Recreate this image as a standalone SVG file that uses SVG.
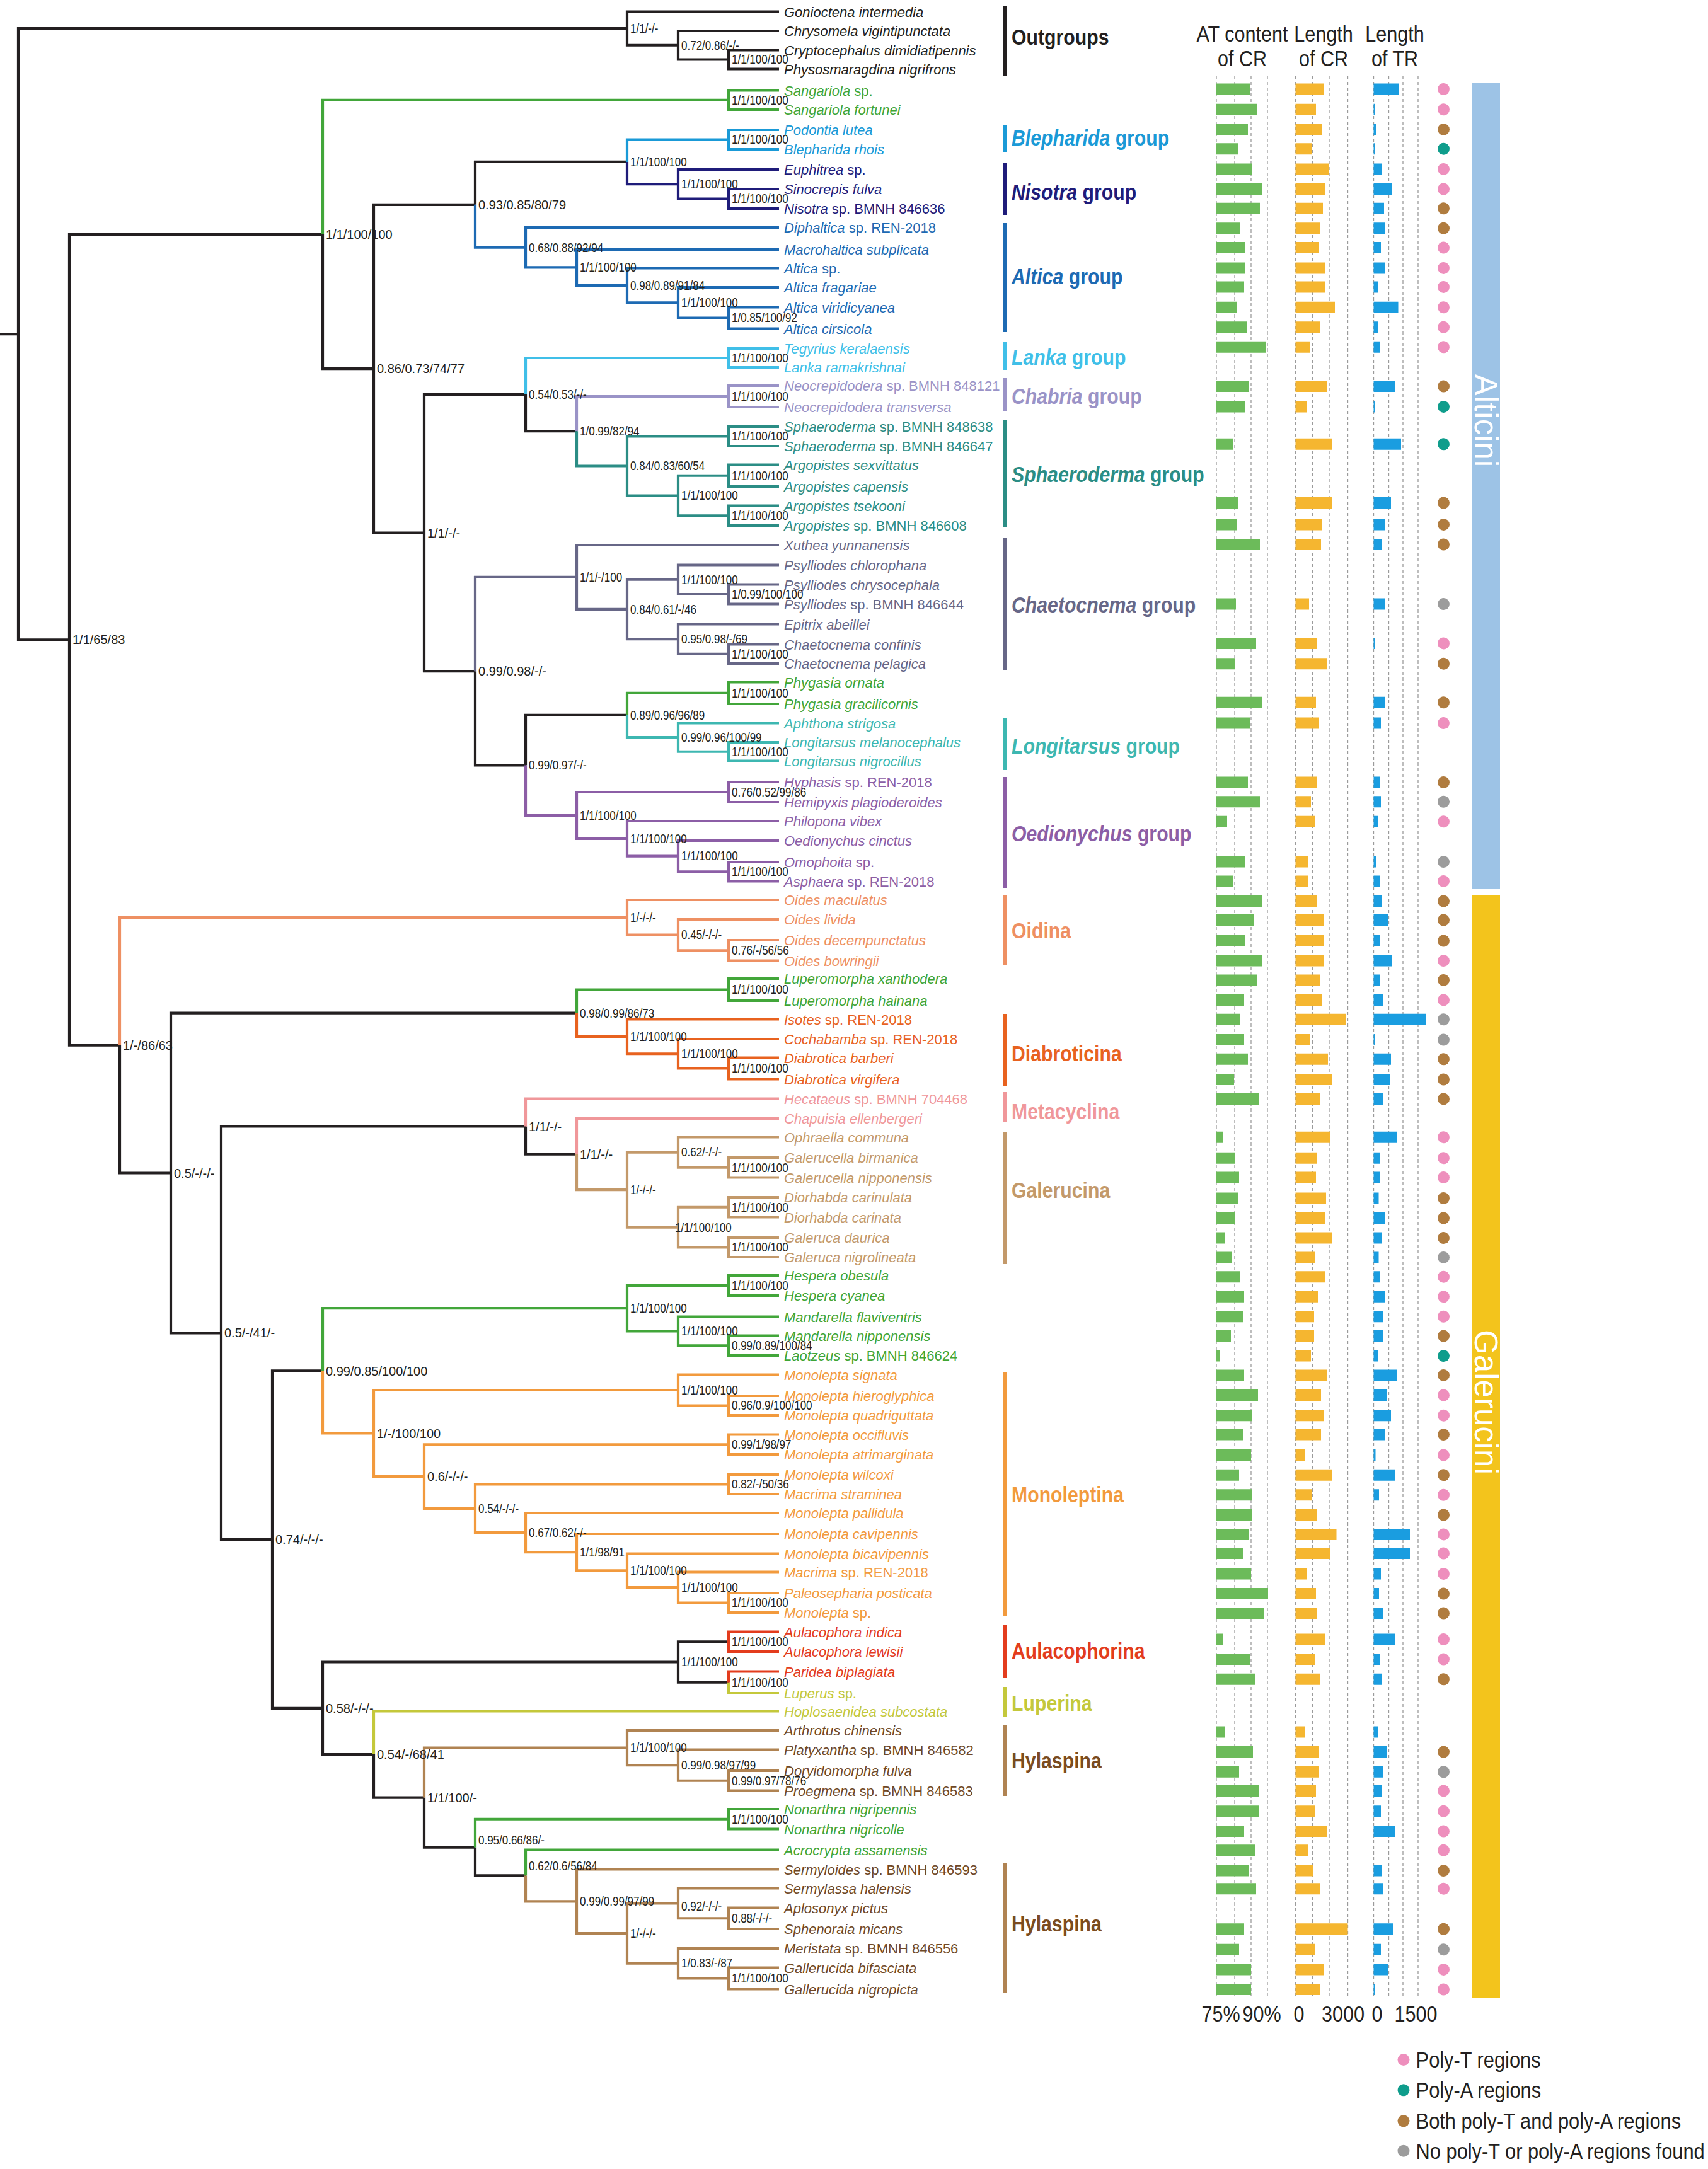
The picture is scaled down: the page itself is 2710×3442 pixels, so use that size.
<svg xmlns="http://www.w3.org/2000/svg" width="2710" height="3442" viewBox="0 0 2710 3442">
<style>
text{font-family:'Liberation Sans',Arial,Helvetica,sans-serif}
.lf{font-size:22px;font-style:italic}
.rm{font-style:normal}
.sv{font-size:20px;fill:#231f20}
.gl{font-size:36px;font-weight:bold}
.gi{font-style:italic}
.hd{font-size:36px;fill:#231f20;text-anchor:middle}
.lg{font-size:35px;fill:#231f20}
.tb{font-size:51px;fill:#ffffff;text-anchor:middle}
.e{fill:none;stroke-width:4.2;stroke-linecap:butt;stroke-linejoin:miter}
.grid{stroke:#9b9b9b;stroke-width:1.3;stroke-dasharray:5 4;fill:none}
.at{fill:#6cbb5a}.cr{fill:#f5b630}.tr{fill:#1a9de0}
.dP{fill:#ee8fbd}.dT{fill:#0f9d8c}.dB{fill:#b07c3f}.dG{fill:#9c9c9c}
path.kb{stroke:#231f20} text.kb,rect.kb{fill:#231f20}
path.gr{stroke:#42a63a} text.gr,rect.gr{fill:#3fa535}
path.lb{stroke:#1a9ad7} text.lb,rect.lb{fill:#1a9ad7}
path.nv{stroke:#1f1c7a} text.nv,rect.nv{fill:#1f1c7a}
path.al{stroke:#1d6ab3} text.al,rect.al{fill:#1d6ab3}
path.la{stroke:#40bfe8} text.la,rect.la{fill:#40bfe8}
path.ch{stroke:#9a93c7} text.ch,rect.ch{fill:#9a93c7}
path.sp{stroke:#2b8d85} text.sp,rect.sp{fill:#2b8d85}
path.ca{stroke:#676787} text.ca,rect.ca{fill:#676787}
path.lo{stroke:#3db7b1} text.lo,rect.lo{fill:#3db7b1}
path.oe{stroke:#8c5ea6} text.oe,rect.oe{fill:#8c5ea6}
path.oi{stroke:#ee9063} text.oi,rect.oi{fill:#ee9063}
path.di{stroke:#e8621f} text.di,rect.di{fill:#e8621f}
path.me{stroke:#f0979a} text.me,rect.me{fill:#f0979a}
path.ga{stroke:#c3996a} text.ga,rect.ga{fill:#c3996a}
path.mo{stroke:#f29a3d} text.mo,rect.mo{fill:#f29a3d}
path.au{stroke:#e33c1d} text.au,rect.au{fill:#e33c1d}
path.lu{stroke:#c4c83b} text.lu,rect.lu{fill:#c4c83b}
path.hy{stroke:#b08352} rect.hy{fill:#b08352}
text.ht{fill:#6f4826} text.hl{fill:#7b4c20}
</style>
<rect x="0" y="0" width="2710" height="3442" fill="#ffffff"/>

<g id="connectors">
<path class="e kb" d="M0 530.2H29M29 530.2V45.1H995M29 530.2V1015.3H110M995 45.1V18.5H1236M995 45.1V71.75H1076M1076 71.75V49H1236M1076 71.75V94.5H1156M1156 94.5V79.5H1236M1156 94.5V109.5H1236M110 1015.3V372H512M110 1015.3V1658.65H190M512 372V585.2H593M593 585.2V324.8H754M593 585.2V845.65H673M754 324.8V256.9H995M673 845.65V626.1H834M673 845.65V1065.2H754M834 626.1V684.25H915M754 1065.2V1214.4H834M834 1214.4V1134.9H995M190 1658.65V1861.5H271M271 1861.5V1607.7H915M271 1861.5V2115.3H351M351 2115.3V1787.5H834M351 2115.3V2443.1H432M834 1787.5V1831.55H915M432 2443.1V2175.35H512M432 2443.1V2710.8H512M512 2710.8V2637.5H1076M512 2710.8V2784.05H593M1076 2637.5V2605.25H1156M1076 2637.5V2669.75H1156M593 2784.05V2852.6H673M673 2852.6V2931.6H754M754 2931.6V2976.4H834"/>
<path class="e gr" d="M512 372V158.75H1156M1156 158.75V143.5H1236M1156 158.75V174H1236M995 1134.9V1099.75H1156M1156 1099.75V1082.5H1236M1156 1099.75V1117H1236M915 1607.7V1570.5H1156M1156 1570.5V1553H1236M1156 1570.5V1588H1236M512 2175.35V2076.2H995M995 2076.2V2040H1156M995 2076.2V2112.4H1076M1156 2040V2024H1236M1156 2040V2056H1236M1076 2112.4V2089.5H1236M1076 2112.4V2135.25H1156M1156 2135.25V2119.5H1236M1156 2135.25V2151H1236M754 2931.6V2886.75H1156M1156 2886.75V2871H1236M1156 2886.75V2902.5H1236M834 2976.4V2935.5H1236"/>
<path class="e lb" d="M995 256.9V221.5H1156M1156 221.5V206H1236M1156 221.5V237H1236"/>
<path class="e nv" d="M995 256.9V292.25H1076M1076 292.25V269H1236M1076 292.25V315.5H1156M1156 315.5V300H1236M1156 315.5V331H1236"/>
<path class="e al" d="M754 324.8V392.7H834M834 392.7V361H1236M834 392.7V424.45H915M915 424.45V396H1236M915 424.45V452.9H995M995 452.9V425.5H1236M995 452.9V480.25H1076M1076 480.25V456H1236M1076 480.25V504.5H1156M1156 504.5V487.5H1236M1156 504.5V521.5H1236"/>
<path class="e la" d="M834 626.1V568H1156M1156 568V553H1236M1156 568V583H1236"/>
<path class="e ch" d="M915 684.25V629H1156M1156 629V612H1236M1156 629V646H1236"/>
<path class="e sp" d="M915 684.25V739.5H995M995 739.5V692.5H1156M995 739.5V786.5H1076M1156 692.5V677H1236M1156 692.5V708H1236M1076 786.5V754.75H1156M1076 786.5V818.25H1156M1156 754.75V737.5H1236M1156 754.75V772H1236M1156 818.25V802.5H1236M1156 818.25V834H1236"/>
<path class="e ca" d="M754 1065.2V915.95H915M915 915.95V865H1236M915 915.95V966.9H995M995 966.9V919.75H1076M995 966.9V1014.1H1076M1076 919.75V896.5H1236M1076 919.75V943H1156M1156 943V927.5H1236M1156 943V958.5H1236M1076 1014.1V990.5H1236M1076 1014.1V1037.75H1156M1156 1037.75V1022.5H1236M1156 1037.75V1053H1236"/>
<path class="e lo" d="M995 1134.9V1170.1H1076M1076 1170.1V1147.5H1236M1076 1170.1V1192.75H1156M1156 1192.75V1178H1236M1156 1192.75V1207.5H1236"/>
<path class="e oe" d="M834 1214.4V1293.9H915M915 1293.9V1257H1156M915 1293.9V1330.8H995M1156 1257V1241H1236M1156 1257V1273H1236M995 1330.8V1303H1236M995 1330.8V1358.6H1076M1076 1358.6V1334H1236M1076 1358.6V1383.25H1156M1156 1383.25V1368H1236M1156 1383.25V1398.5H1236"/>
<path class="e oi" d="M190 1658.65V1455.8H995M995 1455.8V1428H1236M995 1455.8V1483.6H1076M1076 1483.6V1459H1236M1076 1483.6V1508.25H1156M1156 1508.25V1492H1236M1156 1508.25V1524.5H1236"/>
<path class="e di" d="M915 1607.7V1644.9H995M995 1644.9V1617.5H1236M995 1644.9V1672.25H1076M1076 1672.25V1649H1236M1076 1672.25V1695.5H1156M1156 1695.5V1678.5H1236M1156 1695.5V1712.5H1236"/>
<path class="e me" d="M834 1787.5V1743.5H1236M915 1831.55V1775H1236"/>
<path class="e ga" d="M915 1831.55V1888.1H995M995 1888.1V1828.6H1076M995 1888.1V1947.6H1076M1076 1828.6V1804.5H1236M1076 1828.6V1852.75H1156M1156 1852.75V1837H1236M1156 1852.75V1868.5H1236M1076 1947.6V1915.75H1156M1076 1947.6V1979.5H1156M1156 1915.75V1900H1236M1156 1915.75V1931.5H1236M1156 1979.5V1964H1236M1156 1979.5V1995H1236"/>
<path class="e mo" d="M512 2175.35V2274.5H593M593 2274.5V2206H1076M593 2274.5V2343H673M1076 2206V2181.5H1236M1076 2206V2230.5H1156M1156 2230.5V2215H1236M1156 2230.5V2246H1236M673 2343V2292.25H1156M673 2343V2393.8H754M1156 2292.25V2276.5H1236M1156 2292.25V2308H1236M754 2393.8V2355.5H1156M754 2393.8V2432.05H834M1156 2355.5V2340H1236M1156 2355.5V2371H1236M834 2432.05V2401H1236M834 2432.05V2463.1H915M915 2463.1V2434H1236M915 2463.1V2492.25H995M995 2492.25V2465.5H1236M995 2492.25V2519H1076M1076 2519V2494.5H1236M1076 2519V2543.5H1156M1156 2543.5V2528H1236M1156 2543.5V2559H1236"/>
<path class="e au" d="M1156 2605.25V2589.5H1236M1156 2605.25V2621H1236M1156 2669.75V2652.5H1236"/>
<path class="e lu" d="M1156 2669.75V2687H1236M593 2784.05V2715.5H1236"/>
<path class="e hy" d="M673 2852.6V2773.55H995M995 2773.55V2746H1236M995 2773.55V2801.1H1076M1076 2801.1V2776.5H1236M1076 2801.1V2825.75H1156M1156 2825.75V2810H1236M1156 2825.75V2841.5H1236M834 2976.4V3017.3H915M915 3017.3V2966.5H1236M915 3017.3V3068.1H995M995 3068.1V3020.4H1076M995 3068.1V3115.75H1076M1076 3020.4V2996.5H1236M1076 3020.4V3044.25H1156M1156 3044.25V3027.5H1236M1156 3044.25V3061H1236M1076 3115.75V3092H1236M1076 3115.75V3139.5H1156M1156 3139.5V3122.5H1236M1156 3139.5V3156.5H1236"/>
</g>

<g id="support-values-left">
<text class="sv" x="517" y="379">1/1/100/100</text>
<text class="sv" x="598" y="592">0.86/0.73/74/77</text>
<text class="sv" x="759" y="332">0.93/0.85/80/79</text>
<text class="sv" x="678" y="853">1/1/-/-</text>
<text class="sv" x="759" y="1072">0.99/0.98/-/-</text>
<text class="sv" x="115" y="1022">1/1/65/83</text>
<text class="sv" x="195" y="1666">1/-/86/63</text>
<text class="sv" x="276" y="1868.5">0.5/-/-/-</text>
<text class="sv" x="356" y="2122">0.5/-/41/-</text>
<text class="sv" x="839" y="1794.5">1/1/-/-</text>
<text class="sv" x="920" y="1838.5">1/1/-/-</text>
<text class="sv" x="437" y="2450">0.74/-/-/-</text>
<text class="sv" x="517" y="2182.5">0.99/0.85/100/100</text>
<text class="sv" x="598" y="2281.5">1/-/100/100</text>
<text class="sv" x="678" y="2350">0.6/-/-/-</text>
<text class="sv" x="517" y="2718">0.58/-/-/-</text>
<text class="sv" x="598" y="2791">0.54/-/68/41</text>
<text class="sv" x="678" y="2859.5">1/1/100/-</text>
</g>
<g id="support-values-right" transform="scale(0.85,1)">
<text class="sv" x="1176.5" y="52">1/1/-/-</text>
<text class="sv" x="1271.8" y="79">0.72/0.86/-/-</text>
<text class="sv" x="1365.9" y="101.5">1/1/100/100</text>
<text class="sv" x="1365.9" y="166">1/1/100/100</text>
<text class="sv" x="1176.5" y="264">1/1/100/100</text>
<text class="sv" x="1365.9" y="228.5">1/1/100/100</text>
<text class="sv" x="1271.8" y="299">1/1/100/100</text>
<text class="sv" x="1365.9" y="322.5">1/1/100/100</text>
<text class="sv" x="987.1" y="400">0.68/0.88/92/94</text>
<text class="sv" x="1082.4" y="431.5">1/1/100/100</text>
<text class="sv" x="1176.5" y="460">0.98/0.89/91/84</text>
<text class="sv" x="1271.8" y="487">1/1/100/100</text>
<text class="sv" x="1365.9" y="511.5">1/0.85/100/92</text>
<text class="sv" x="987.1" y="633">0.54/0.53/-/-</text>
<text class="sv" x="1365.9" y="575">1/1/100/100</text>
<text class="sv" x="1082.4" y="691">1/0.99/82/94</text>
<text class="sv" x="1365.9" y="636">1/1/100/100</text>
<text class="sv" x="1176.5" y="746.5">0.84/0.83/60/54</text>
<text class="sv" x="1365.9" y="699.5">1/1/100/100</text>
<text class="sv" x="1271.8" y="793.5">1/1/100/100</text>
<text class="sv" x="1365.9" y="762">1/1/100/100</text>
<text class="sv" x="1365.9" y="825">1/1/100/100</text>
<text class="sv" x="1082.4" y="923">1/1/-/100</text>
<text class="sv" x="1176.5" y="974">0.84/0.61/-/46</text>
<text class="sv" x="1271.8" y="927">1/1/100/100</text>
<text class="sv" x="1365.9" y="950">1/0.99/100/100</text>
<text class="sv" x="1271.8" y="1021">0.95/0.98/-/69</text>
<text class="sv" x="1365.9" y="1045">1/1/100/100</text>
<text class="sv" x="987.1" y="1221.5">0.99/0.97/-/-</text>
<text class="sv" x="1176.5" y="1142">0.89/0.96/96/89</text>
<text class="sv" x="1365.9" y="1107">1/1/100/100</text>
<text class="sv" x="1271.8" y="1177">0.99/0.96/100/99</text>
<text class="sv" x="1365.9" y="1200">1/1/100/100</text>
<text class="sv" x="1082.4" y="1301">1/1/100/100</text>
<text class="sv" x="1365.9" y="1264">0.76/0.52/99/86</text>
<text class="sv" x="1176.5" y="1338">1/1/100/100</text>
<text class="sv" x="1271.8" y="1365.5">1/1/100/100</text>
<text class="sv" x="1365.9" y="1390">1/1/100/100</text>
<text class="sv" x="1176.5" y="1463">1/-/-/-</text>
<text class="sv" x="1271.8" y="1490.5">0.45/-/-/-</text>
<text class="sv" x="1365.9" y="1515">0.76/-/56/56</text>
<text class="sv" x="1082.4" y="1615">0.98/0.99/86/73</text>
<text class="sv" x="1365.9" y="1577.5">1/1/100/100</text>
<text class="sv" x="1176.5" y="1652">1/1/100/100</text>
<text class="sv" x="1271.8" y="1679">1/1/100/100</text>
<text class="sv" x="1365.9" y="1702.5">1/1/100/100</text>
<text class="sv" x="1176.5" y="1895">1/-/-/-</text>
<text class="sv" x="1271.8" y="1835.5">0.62/-/-/-</text>
<text class="sv" x="1365.9" y="1860">1/1/100/100</text>
<text class="sv" x="1260" y="1955">1/1/100/100</text>
<text class="sv" x="1365.9" y="1923">1/1/100/100</text>
<text class="sv" x="1365.9" y="1986.5">1/1/100/100</text>
<text class="sv" x="1176.5" y="2083">1/1/100/100</text>
<text class="sv" x="1365.9" y="2047">1/1/100/100</text>
<text class="sv" x="1271.8" y="2119.5">1/1/100/100</text>
<text class="sv" x="1365.9" y="2142">0.99/0.89/100/84</text>
<text class="sv" x="1271.8" y="2213">1/1/100/100</text>
<text class="sv" x="1365.9" y="2237.5">0.96/0.9/100/100</text>
<text class="sv" x="1365.9" y="2299">0.99/1/98/97</text>
<text class="sv" x="892.9" y="2401">0.54/-/-/-</text>
<text class="sv" x="1365.9" y="2362.5">0.82/-/50/36</text>
<text class="sv" x="987.1" y="2439">0.67/0.62/-/-</text>
<text class="sv" x="1082.4" y="2470">1/1/98/91</text>
<text class="sv" x="1176.5" y="2499">1/1/100/100</text>
<text class="sv" x="1271.8" y="2526">1/1/100/100</text>
<text class="sv" x="1365.9" y="2550.5">1/1/100/100</text>
<text class="sv" x="1271.8" y="2644.5">1/1/100/100</text>
<text class="sv" x="1365.9" y="2612">1/1/100/100</text>
<text class="sv" x="1365.9" y="2677">1/1/100/100</text>
<text class="sv" x="1176.5" y="2780.5">1/1/100/100</text>
<text class="sv" x="1271.8" y="2808">0.99/0.98/97/99</text>
<text class="sv" x="1365.9" y="2833">0.99/0.97/78/76</text>
<text class="sv" x="892.9" y="2927">0.95/0.66/86/-</text>
<text class="sv" x="1365.9" y="2894">1/1/100/100</text>
<text class="sv" x="987.1" y="2968">0.62/0.6/56/84</text>
<text class="sv" x="1082.4" y="3024">0.99/0.99/97/99</text>
<text class="sv" x="1176.5" y="3075">1/-/-/-</text>
<text class="sv" x="1271.8" y="3032">0.92/-/-/-</text>
<text class="sv" x="1365.9" y="3051">0.88/-/-/-</text>
<text class="sv" x="1271.8" y="3122.5">1/0.83/-/87</text>
<text class="sv" x="1365.9" y="3146.5">1/1/100/100</text>
</g>

<g id="taxa">
<g id="t1"><text class="lf kb" x="1244" y="26.5">Gonioctena intermedia</text></g>
<g id="t2"><text class="lf kb" x="1244" y="57">Chrysomela vigintipunctata</text></g>
<g id="t3"><text class="lf kb" x="1244" y="87.5">Cryptocephalus dimidiatipennis</text></g>
<g id="t4"><text class="lf kb" x="1244" y="117.5">Physosmaragdina nigrifrons</text></g>
<g id="t5"><text class="lf gr" x="1244" y="151.5">Sangariola<tspan class="rm"> sp.</tspan></text></g>
<g id="t6"><text class="lf gr" x="1244" y="182">Sangariola fortunei</text></g>
<g id="t7"><text class="lf lb" x="1244" y="214">Podontia lutea</text></g>
<g id="t8"><text class="lf lb" x="1244" y="245">Blepharida rhois</text></g>
<g id="t9"><text class="lf nv" x="1244" y="277">Euphitrea<tspan class="rm"> sp.</tspan></text></g>
<g id="t10"><text class="lf nv" x="1244" y="308">Sinocrepis fulva</text></g>
<g id="t11"><text class="lf nv" x="1244" y="339">Nisotra<tspan class="rm"> sp. BMNH 846636</tspan></text></g>
<g id="t12"><text class="lf al" x="1244" y="369">Diphaltica<tspan class="rm"> sp. REN-2018</tspan></text></g>
<g id="t13"><text class="lf al" x="1244" y="404">Macrohaltica subplicata</text></g>
<g id="t14"><text class="lf al" x="1244" y="433.5">Altica<tspan class="rm"> sp.</tspan></text></g>
<g id="t15"><text class="lf al" x="1244" y="464">Altica fragariae</text></g>
<g id="t16"><text class="lf al" x="1244" y="495.5">Altica viridicyanea</text></g>
<g id="t17"><text class="lf al" x="1244" y="529.5">Altica cirsicola</text></g>
<g id="t18"><text class="lf la" x="1244" y="561">Tegyrius keralaensis</text></g>
<g id="t19"><text class="lf la" x="1244" y="591">Lanka ramakrishnai</text></g>
<g id="t20"><text class="lf ch" x="1244" y="620">Neocrepidodera<tspan class="rm"> sp. BMNH 848121</tspan></text></g>
<g id="t21"><text class="lf ch" x="1244" y="654">Neocrepidodera transversa</text></g>
<g id="t22"><text class="lf sp" x="1244" y="685">Sphaeroderma<tspan class="rm"> sp. BMNH 848638</tspan></text></g>
<g id="t23"><text class="lf sp" x="1244" y="716">Sphaeroderma<tspan class="rm"> sp. BMNH 846647</tspan></text></g>
<g id="t24"><text class="lf sp" x="1244" y="745.5">Argopistes sexvittatus</text></g>
<g id="t25"><text class="lf sp" x="1244" y="780">Argopistes capensis</text></g>
<g id="t26"><text class="lf sp" x="1244" y="810.5">Argopistes tsekooni</text></g>
<g id="t27"><text class="lf sp" x="1244" y="842">Argopistes<tspan class="rm"> sp. BMNH 846608</tspan></text></g>
<g id="t28"><text class="lf ca" x="1244" y="873">Xuthea yunnanensis</text></g>
<g id="t29"><text class="lf ca" x="1244" y="904.5">Psylliodes chlorophana</text></g>
<g id="t30"><text class="lf ca" x="1244" y="935.5">Psylliodes chrysocephala</text></g>
<g id="t31"><text class="lf ca" x="1244" y="966.5">Psylliodes<tspan class="rm"> sp. BMNH 846644</tspan></text></g>
<g id="t32"><text class="lf ca" x="1244" y="998.5">Epitrix abeillei</text></g>
<g id="t33"><text class="lf ca" x="1244" y="1030.5">Chaetocnema confinis</text></g>
<g id="t34"><text class="lf ca" x="1244" y="1061">Chaetocnema pelagica</text></g>
<g id="t35"><text class="lf gr" x="1244" y="1090.5">Phygasia ornata</text></g>
<g id="t36"><text class="lf gr" x="1244" y="1125">Phygasia gracilicornis</text></g>
<g id="t37"><text class="lf lo" x="1244" y="1155.5">Aphthona strigosa</text></g>
<g id="t38"><text class="lf lo" x="1244" y="1186">Longitarsus melanocephalus</text></g>
<g id="t39"><text class="lf lo" x="1244" y="1215.5">Longitarsus nigrocillus</text></g>
<g id="t40"><text class="lf oe" x="1244" y="1249">Hyphasis<tspan class="rm"> sp. REN-2018</tspan></text></g>
<g id="t41"><text class="lf oe" x="1244" y="1281">Hemipyxis plagioderoides</text></g>
<g id="t42"><text class="lf oe" x="1244" y="1311">Philopona vibex</text></g>
<g id="t43"><text class="lf oe" x="1244" y="1342">Oedionychus cinctus</text></g>
<g id="t44"><text class="lf oe" x="1244" y="1376">Omophoita<tspan class="rm"> sp.</tspan></text></g>
<g id="t45"><text class="lf oe" x="1244" y="1406.5">Asphaera<tspan class="rm"> sp. REN-2018</tspan></text></g>
<g id="t46"><text class="lf oi" x="1244" y="1436">Oides maculatus</text></g>
<g id="t47"><text class="lf oi" x="1244" y="1467">Oides livida</text></g>
<g id="t48"><text class="lf oi" x="1244" y="1500">Oides decempunctatus</text></g>
<g id="t49"><text class="lf oi" x="1244" y="1532.5">Oides bowringii</text></g>
<g id="t50"><text class="lf gr" x="1244" y="1561">Luperomorpha xanthodera</text></g>
<g id="t51"><text class="lf gr" x="1244" y="1596">Luperomorpha hainana</text></g>
<g id="t52"><text class="lf di" x="1244" y="1625.5">Isotes<tspan class="rm"> sp. REN-2018</tspan></text></g>
<g id="t53"><text class="lf di" x="1244" y="1657">Cochabamba<tspan class="rm"> sp. REN-2018</tspan></text></g>
<g id="t54"><text class="lf di" x="1244" y="1686.5">Diabrotica barberi</text></g>
<g id="t55"><text class="lf di" x="1244" y="1720.5">Diabrotica virgifera</text></g>
<g id="t56"><text class="lf me" x="1244" y="1751.5">Hecataeus<tspan class="rm"> sp. BMNH 704468</tspan></text></g>
<g id="t57"><text class="lf me" x="1244" y="1783">Chapuisia ellenbergeri</text></g>
<g id="t58"><text class="lf ga" x="1244" y="1812.5">Ophraella communa</text></g>
<g id="t59"><text class="lf ga" x="1244" y="1845">Galerucella birmanica</text></g>
<g id="t60"><text class="lf ga" x="1244" y="1876.5">Galerucella nipponensis</text></g>
<g id="t61"><text class="lf ga" x="1244" y="1908">Diorhabda carinulata</text></g>
<g id="t62"><text class="lf ga" x="1244" y="1939.5">Diorhabda carinata</text></g>
<g id="t63"><text class="lf ga" x="1244" y="1972">Galeruca daurica</text></g>
<g id="t64"><text class="lf ga" x="1244" y="2003">Galeruca nigrolineata</text></g>
<g id="t65"><text class="lf gr" x="1244" y="2032">Hespera obesula</text></g>
<g id="t66"><text class="lf gr" x="1244" y="2064">Hespera cyanea</text></g>
<g id="t67"><text class="lf gr" x="1244" y="2097.5">Mandarella flaviventris</text></g>
<g id="t68"><text class="lf gr" x="1244" y="2127.5">Mandarella nipponensis</text></g>
<g id="t69"><text class="lf gr" x="1244" y="2159">Laotzeus<tspan class="rm"> sp. BMNH 846624</tspan></text></g>
<g id="t70"><text class="lf mo" x="1244" y="2189.5">Monolepta signata</text></g>
<g id="t71"><text class="lf mo" x="1244" y="2223">Monolepta hieroglyphica</text></g>
<g id="t72"><text class="lf mo" x="1244" y="2254">Monolepta quadriguttata</text></g>
<g id="t73"><text class="lf mo" x="1244" y="2284.5">Monolepta occifluvis</text></g>
<g id="t74"><text class="lf mo" x="1244" y="2316">Monolepta atrimarginata</text></g>
<g id="t75"><text class="lf mo" x="1244" y="2348">Monolepta wilcoxi</text></g>
<g id="t76"><text class="lf mo" x="1244" y="2379">Macrima straminea</text></g>
<g id="t77"><text class="lf mo" x="1244" y="2409">Monolepta pallidula</text></g>
<g id="t78"><text class="lf mo" x="1244" y="2442">Monolepta cavipennis</text></g>
<g id="t79"><text class="lf mo" x="1244" y="2473.5">Monolepta bicavipennis</text></g>
<g id="t80"><text class="lf mo" x="1244" y="2502.5">Macrima<tspan class="rm"> sp. REN-2018</tspan></text></g>
<g id="t81"><text class="lf mo" x="1244" y="2536">Paleosepharia posticata</text></g>
<g id="t82"><text class="lf mo" x="1244" y="2567">Monolepta<tspan class="rm"> sp.</tspan></text></g>
<g id="t83"><text class="lf au" x="1244" y="2597.5">Aulacophora indica</text></g>
<g id="t84"><text class="lf au" x="1244" y="2629">Aulacophora lewisii</text></g>
<g id="t85"><text class="lf au" x="1244" y="2660.5">Paridea biplagiata</text></g>
<g id="t86"><text class="lf lu" x="1244" y="2695">Luperus<tspan class="rm"> sp.</tspan></text></g>
<g id="t87"><text class="lf lu" x="1244" y="2723.5">Hoplosaenidea subcostata</text></g>
<g id="t88"><text class="lf ht" x="1244" y="2754">Arthrotus chinensis</text></g>
<g id="t89"><text class="lf ht" x="1244" y="2784.5">Platyxantha<tspan class="rm"> sp. BMNH 846582</tspan></text></g>
<g id="t90"><text class="lf ht" x="1244" y="2818">Doryidomorpha fulva</text></g>
<g id="t91"><text class="lf ht" x="1244" y="2849.5">Proegmena<tspan class="rm"> sp. BMNH 846583</tspan></text></g>
<g id="t92"><text class="lf gr" x="1244" y="2879">Nonarthra nigripennis</text></g>
<g id="t93"><text class="lf gr" x="1244" y="2910.5">Nonarthra nigricolle</text></g>
<g id="t94"><text class="lf gr" x="1244" y="2943.5">Acrocrypta assamensis</text></g>
<g id="t95"><text class="lf ht" x="1244" y="2974.5">Sermyloides<tspan class="rm"> sp. BMNH 846593</tspan></text></g>
<g id="t96"><text class="lf ht" x="1244" y="3004.5">Sermylassa halensis</text></g>
<g id="t97"><text class="lf ht" x="1244" y="3035.5">Aplosonyx pictus</text></g>
<g id="t98"><text class="lf ht" x="1244" y="3069">Sphenoraia micans</text></g>
<g id="t99"><text class="lf ht" x="1244" y="3100">Meristata<tspan class="rm"> sp. BMNH 846556</tspan></text></g>
<g id="t100"><text class="lf ht" x="1244" y="3130.5">Gallerucida bifasciata</text></g>
<g id="t101"><text class="lf ht" x="1244" y="3164.5">Gallerucida nigropicta</text></g>
</g>

<g id="groups">
<g id="g-outgroups"><rect class="kb" x="1592" y="9" width="5" height="112"/><text class="gl kb" transform="translate(1605,71) scale(0.84,1)">Outgroups</text></g>
<g id="g-blepharida"><rect class="lb" x="1592" y="198" width="5" height="44"/><text class="gl lb" transform="translate(1605,231) scale(0.84,1)"><tspan class="gi">Blepharida</tspan> group</text></g>
<g id="g-nisotra"><rect class="nv" x="1592" y="258" width="5" height="83"/><text class="gl nv" transform="translate(1605,317) scale(0.84,1)"><tspan class="gi">Nisotra</tspan> group</text></g>
<g id="g-altica"><rect class="al" x="1592" y="354" width="5" height="173"/><text class="gl al" transform="translate(1605,451) scale(0.84,1)"><tspan class="gi">Altica</tspan> group</text></g>
<g id="g-lanka"><rect class="la" x="1592" y="543" width="5" height="44"/><text class="gl la" transform="translate(1605,579) scale(0.84,1)"><tspan class="gi">Lanka</tspan> group</text></g>
<g id="g-chabria"><rect class="ch" x="1592" y="600" width="5" height="53"/><text class="gl ch" transform="translate(1605,641) scale(0.84,1)"><tspan class="gi">Chabria</tspan> group</text></g>
<g id="g-sphaeroderma"><rect class="sp" x="1592" y="667" width="5" height="169"/><text class="gl sp" transform="translate(1605,765) scale(0.84,1)"><tspan class="gi">Sphaeroderma</tspan> group</text></g>
<g id="g-chaetocnema"><rect class="ca" x="1592" y="853" width="5" height="210"/><text class="gl ca" transform="translate(1605,972) scale(0.84,1)"><tspan class="gi">Chaetocnema</tspan> group</text></g>
<g id="g-longitarsus"><rect class="lo" x="1592" y="1139" width="5" height="83"/><text class="gl lo" transform="translate(1605,1196) scale(0.84,1)"><tspan class="gi">Longitarsus</tspan> group</text></g>
<g id="g-oedionychus"><rect class="oe" x="1592" y="1233" width="5" height="176"/><text class="gl oe" transform="translate(1605,1335) scale(0.84,1)"><tspan class="gi">Oedionychus</tspan> group</text></g>
<g id="g-oidina"><rect class="oi" x="1592" y="1420" width="5" height="112"/><text class="gl oi" transform="translate(1605,1489) scale(0.84,1)">Oidina</text></g>
<g id="g-diabroticina"><rect class="di" x="1592" y="1609" width="5" height="114"/><text class="gl di" transform="translate(1605,1684) scale(0.84,1)">Diabroticina</text></g>
<g id="g-metacyclina"><rect class="me" x="1592" y="1733" width="5" height="48"/><text class="gl me" transform="translate(1605,1776) scale(0.84,1)">Metacyclina</text></g>
<g id="g-galerucina"><rect class="ga" x="1592" y="1796" width="5" height="210"/><text class="gl ga" transform="translate(1605,1901) scale(0.84,1)">Galerucina</text></g>
<g id="g-monoleptina"><rect class="mo" x="1592" y="2177" width="5" height="388"/><text class="gl mo" transform="translate(1605,2384) scale(0.84,1)">Monoleptina</text></g>
<g id="g-aulacophorina"><rect class="au" x="1592" y="2579" width="5" height="84"/><text class="gl au" transform="translate(1605,2632) scale(0.84,1)">Aulacophorina</text></g>
<g id="g-luperina"><rect class="lu" x="1592" y="2677" width="5" height="47"/><text class="gl lu" transform="translate(1605,2715) scale(0.84,1)">Luperina</text></g>
<g id="g-hylaspina1"><rect class="hy" x="1592" y="2737" width="5" height="113"/><text class="gl hl" transform="translate(1605,2806) scale(0.84,1)">Hylaspina</text></g>
<g id="g-hylaspina2"><rect class="hy" x="1592" y="2957" width="5" height="206"/><text class="gl hl" transform="translate(1605,3065) scale(0.84,1)">Hylaspina</text></g>
</g>

<g id="headers">
<text class="hd" transform="translate(1971,66) scale(0.85,1)">AT content</text>
<text class="hd" transform="translate(1971,105) scale(0.85,1)">of CR</text>
<text class="hd" transform="translate(2100,66) scale(0.85,1)">Length</text>
<text class="hd" transform="translate(2100,105) scale(0.85,1)">of CR</text>
<text class="hd" transform="translate(2213,66) scale(0.85,1)">Length</text>
<text class="hd" transform="translate(2213,105) scale(0.85,1)">of TR</text>
</g>

<g id="gridlines">
<path class="grid" d="M1930 121V3172M1959 121V3172M1985 121V3172M2011 121V3172M2055.5 121V3172M2082.5 121V3172M2110 121V3172M2138.5 121V3172M2179.5 121V3172M2203.5 121V3172M2226 121V3172M2250 121V3172"/>
</g>

<g id="bars-at">
<path class="at" d="M1930 132.5h54v18h-54zM1930 164.8h65v18h-65zM1930 196.4h50v18h-50zM1930 227.2h35v18h-35zM1930 259.4h57v18h-57zM1930 291h72v18h-72zM1930 321.8h69v18h-69zM1930 353.3h37v18h-37zM1930 384h46v18h-46zM1930 416.4h46v18h-46zM1930 446.4h44v18h-44zM1930 478.7h32v18h-32zM1930 510.2h49v18h-49zM1930 541.8h78v18h-78zM1930 604.1h52v18h-52zM1930 636.4h45v18h-45zM1930 695.8h26v18h-26zM1930 789h34v18h-34zM1930 823.4h33v18h-33zM1930 855h69v18h-69zM1930 949.6h31v18h-31zM1930 1011.9h63v18h-63zM1930 1044.2h29v18h-29zM1930 1105.8h72v18h-72zM1930 1138.6h54v18h-54zM1930 1232.5h50v18h-50zM1930 1263.3h69v18h-69zM1930 1294.8h17v18h-17zM1930 1358.6h45v18h-45zM1930 1389.4h26v18h-26zM1930 1421h72v18h-72zM1930 1451h60v18h-60zM1930 1484h46v18h-46zM1930 1515.6h72v18h-72zM1930 1546.4h64v18h-64zM1930 1577.9h44v18h-44zM1930 1608.7h37v18h-37zM1930 1641h44v18h-44zM1930 1671.8h50v18h-50zM1930 1704h28v18h-28zM1930 1734.9h67v18h-67zM1930 1795.7h11v18h-11zM1930 1828.7h29v18h-29zM1930 1859.5h36v18h-36zM1930 1892.5h34v18h-34zM1930 1924h29v18h-29zM1930 1955.6h14v18h-14zM1930 1986.4h24v18h-24zM1930 2017.2h37v18h-37zM1930 2048.7h44v18h-44zM1930 2080.3h42v18h-42zM1930 2111.1h23v18h-23zM1930 2142.6h6v18h-6zM1930 2173.4h44v18h-44zM1930 2205h66v18h-66zM1930 2237.2h56v18h-56zM1930 2267.6h43v18h-43zM1930 2300h55v18h-55zM1930 2331.7h36v18h-36zM1930 2363.3h57v18h-57zM1930 2395h56v18h-56zM1930 2425.9h52v18h-52zM1930 2456h43v18h-43zM1930 2488.4h55v18h-55zM1930 2520h82v18h-82zM1930 2551h76v18h-76zM1930 2592.5h10v18h-10zM1930 2624.1h54v18h-54zM1930 2655.8h62v18h-62zM1930 2739.5h13v18h-13zM1930 2771.1h58v18h-58zM1930 2802.8h36v18h-36zM1930 2832.9h67v18h-67zM1930 2865.3h67v18h-67zM1930 2897h44v18h-44zM1930 2927.2h62v18h-62zM1930 2959.6h51v18h-51zM1930 2988.2h63v18h-63zM1930 3052.3h44v18h-44zM1930 3084.7h36v18h-36zM1930 3116.4h55v18h-55zM1930 3148h55v18h-55z"/>
</g>
<g id="bars-cr">
<path class="cr" d="M2055.5 132.5h44.5v18h-44.5zM2055.5 164.8h32.5v18h-32.5zM2055.5 196.4h41.5v18h-41.5zM2055.5 227.2h25.5v18h-25.5zM2055.5 259.4h52.5v18h-52.5zM2055.5 291h46.5v18h-46.5zM2055.5 321.8h43.5v18h-43.5zM2055.5 353.3h39.5v18h-39.5zM2055.5 384h37.5v18h-37.5zM2055.5 416.4h46.5v18h-46.5zM2055.5 446.4h47.5v18h-47.5zM2055.5 478.7h62.5v18h-62.5zM2055.5 510.2h38.5v18h-38.5zM2055.5 541.8h22.5v18h-22.5zM2055.5 604.1h49.5v18h-49.5zM2055.5 636.4h18.5v18h-18.5zM2055.5 695.8h57.5v18h-57.5zM2055.5 789h57.5v18h-57.5zM2055.5 823.4h42.5v18h-42.5zM2055.5 855h40.5v18h-40.5zM2055.5 949.6h21.5v18h-21.5zM2055.5 1011.9h34.5v18h-34.5zM2055.5 1044.2h49.5v18h-49.5zM2055.5 1105.8h32.5v18h-32.5zM2055.5 1138.6h36.5v18h-36.5zM2055.5 1232.5h34v18h-34zM2055.5 1263.3h24.5v18h-24.5zM2055.5 1294.8h31.5v18h-31.5zM2055.5 1358.6h19.5v18h-19.5zM2055.5 1389.4h20.5v18h-20.5zM2055.5 1421h34.5v18h-34.5zM2055.5 1451h45.5v18h-45.5zM2055.5 1484h44.5v18h-44.5zM2055.5 1515.6h45.5v18h-45.5zM2055.5 1546.4h39.5v18h-39.5zM2055.5 1577.9h41.5v18h-41.5zM2055.5 1608.7h80.5v18h-80.5zM2055.5 1641h23.5v18h-23.5zM2055.5 1671.8h51.5v18h-51.5zM2055.5 1704h57.5v18h-57.5zM2055.5 1734.9h38.5v18h-38.5zM2055.5 1795.7h55.5v18h-55.5zM2055.5 1828.7h34.5v18h-34.5zM2055.5 1859.5h32.5v18h-32.5zM2055.5 1892.5h48.5v18h-48.5zM2055.5 1924h47v18h-47zM2055.5 1955.6h57.5v18h-57.5zM2055.5 1986.4h30.5v18h-30.5zM2055.5 2017.2h47.5v18h-47.5zM2055.5 2048.7h35.5v18h-35.5zM2055.5 2080.3h29.5v18h-29.5zM2055.5 2111.1h29.5v18h-29.5zM2055.5 2142.6h24.5v18h-24.5zM2055.5 2173.4h50.5v18h-50.5zM2055.5 2205h40.5v18h-40.5zM2055.5 2237.2h44.5v18h-44.5zM2055.5 2267.6h40.5v18h-40.5zM2055.5 2300h15.5v18h-15.5zM2055.5 2331.7h58.5v18h-58.5zM2055.5 2363.3h26.5v18h-26.5zM2055.5 2395h34.5v18h-34.5zM2055.5 2425.9h65v18h-65zM2055.5 2456h55.5v18h-55.5zM2055.5 2488.4h17.5v18h-17.5zM2055.5 2520h32.5v18h-32.5zM2055.5 2551h33.5v18h-33.5zM2055.5 2592.5h47v18h-47zM2055.5 2624.1h31.5v18h-31.5zM2055.5 2655.8h38.5v18h-38.5zM2055.5 2739.5h15.5v18h-15.5zM2055.5 2771.1h36.5v18h-36.5zM2055.5 2802.8h36.5v18h-36.5zM2055.5 2832.9h32.5v18h-32.5zM2055.5 2865.3h31.5v18h-31.5zM2055.5 2897h49.5v18h-49.5zM2055.5 2927.2h19.5v18h-19.5zM2055.5 2959.6h27.5v18h-27.5zM2055.5 2988.2h39.5v18h-39.5zM2055.5 3052.3h83v18h-83zM2055.5 3084.7h30.5v18h-30.5zM2055.5 3116.4h44.5v18h-44.5zM2055.5 3148h38.5v18h-38.5z"/>
</g>
<g id="bars-tr">
<path class="tr" d="M2179.5 132.5h39.5v18h-39.5zM2179.5 164.8h2.5v18h-2.5zM2179.5 196.4h3.5v18h-3.5zM2179.5 227.2h2v18h-2zM2179.5 259.4h13.5v18h-13.5zM2179.5 291h29.5v18h-29.5zM2179.5 321.8h16.5v18h-16.5zM2179.5 353.3h18.5v18h-18.5zM2179.5 384h11.5v18h-11.5zM2179.5 416.4h17.5v18h-17.5zM2179.5 446.4h6.5v18h-6.5zM2179.5 478.7h39v18h-39zM2179.5 510.2h7.5v18h-7.5zM2179.5 541.8h9.5v18h-9.5zM2179.5 604.1h33.5v18h-33.5zM2179.5 636.4h2.5v18h-2.5zM2179.5 695.8h43.5v18h-43.5zM2179.5 789h27.5v18h-27.5zM2179.5 823.4h17.5v18h-17.5zM2179.5 855h12.5v18h-12.5zM2179.5 949.6h17.5v18h-17.5zM2179.5 1011.9h2.5v18h-2.5zM2179.5 1105.8h17.5v18h-17.5zM2179.5 1138.6h11.5v18h-11.5zM2179.5 1232.5h9.5v18h-9.5zM2179.5 1263.3h11.5v18h-11.5zM2179.5 1294.8h6.5v18h-6.5zM2179.5 1358.6h3.5v18h-3.5zM2179.5 1389.4h9.5v18h-9.5zM2179.5 1421h13.5v18h-13.5zM2179.5 1451h23.5v18h-23.5zM2179.5 1484h9.5v18h-9.5zM2179.5 1515.6h28.5v18h-28.5zM2179.5 1546.4h10.5v18h-10.5zM2179.5 1577.9h15.5v18h-15.5zM2179.5 1608.7h82.5v18h-82.5zM2179.5 1641h2v18h-2zM2179.5 1671.8h27.5v18h-27.5zM2179.5 1704h25.5v18h-25.5zM2179.5 1734.9h14.5v18h-14.5zM2179.5 1795.7h37.5v18h-37.5zM2179.5 1828.7h9.5v18h-9.5zM2179.5 1859.5h9.5v18h-9.5zM2179.5 1892.5h8v18h-8zM2179.5 1924h18.5v18h-18.5zM2179.5 1955.6h13.5v18h-13.5zM2179.5 1986.4h8v18h-8zM2179.5 2017.2h10.5v18h-10.5zM2179.5 2048.7h18.5v18h-18.5zM2179.5 2080.3h15.5v18h-15.5zM2179.5 2111.1h15.5v18h-15.5zM2179.5 2142.6h7.5v18h-7.5zM2179.5 2173.4h37.5v18h-37.5zM2179.5 2205h20.5v18h-20.5zM2179.5 2237.2h27.5v18h-27.5zM2179.5 2267.6h18.5v18h-18.5zM2179.5 2300h3v18h-3zM2179.5 2331.7h34.5v18h-34.5zM2179.5 2363.3h8.5v18h-8.5zM2179.5 2425.9h57.5v18h-57.5zM2179.5 2456h57.5v18h-57.5zM2179.5 2488.4h11.5v18h-11.5zM2179.5 2520h8.5v18h-8.5zM2179.5 2551h14.5v18h-14.5zM2179.5 2592.5h34.5v18h-34.5zM2179.5 2624.1h10.5v18h-10.5zM2179.5 2655.8h13.5v18h-13.5zM2179.5 2739.5h7.5v18h-7.5zM2179.5 2771.1h21.5v18h-21.5zM2179.5 2802.8h15.5v18h-15.5zM2179.5 2832.9h13.5v18h-13.5zM2179.5 2865.3h11.5v18h-11.5zM2179.5 2897h33.5v18h-33.5zM2179.5 2959.6h13.5v18h-13.5zM2179.5 2988.2h15.5v18h-15.5zM2179.5 3052.3h30.5v18h-30.5zM2179.5 3084.7h11.5v18h-11.5zM2179.5 3116.4h22.5v18h-22.5zM2179.5 3148h2v18h-2z"/>
</g>

<g id="dots">
<g class="dP"><circle cx="2290.5" cy="141.5" r="9.5"/><circle cx="2290.5" cy="173.8" r="9.5"/><circle cx="2290.5" cy="268.4" r="9.5"/><circle cx="2290.5" cy="300" r="9.5"/><circle cx="2290.5" cy="393" r="9.5"/><circle cx="2290.5" cy="425.4" r="9.5"/><circle cx="2290.5" cy="455.4" r="9.5"/><circle cx="2290.5" cy="487.7" r="9.5"/><circle cx="2290.5" cy="519.2" r="9.5"/><circle cx="2290.5" cy="550.8" r="9.5"/><circle cx="2290.5" cy="1020.9" r="9.5"/><circle cx="2290.5" cy="1147.6" r="9.5"/><circle cx="2290.5" cy="1303.8" r="9.5"/><circle cx="2290.5" cy="1398.4" r="9.5"/><circle cx="2290.5" cy="1524.6" r="9.5"/><circle cx="2290.5" cy="1586.9" r="9.5"/><circle cx="2290.5" cy="1804.7" r="9.5"/><circle cx="2290.5" cy="1837.7" r="9.5"/><circle cx="2290.5" cy="1868.5" r="9.5"/><circle cx="2290.5" cy="2026.2" r="9.5"/><circle cx="2290.5" cy="2057.7" r="9.5"/><circle cx="2290.5" cy="2089.3" r="9.5"/><circle cx="2290.5" cy="2214" r="9.5"/><circle cx="2290.5" cy="2246.2" r="9.5"/><circle cx="2290.5" cy="2309" r="9.5"/><circle cx="2290.5" cy="2372.3" r="9.5"/><circle cx="2290.5" cy="2434.9" r="9.5"/><circle cx="2290.5" cy="2465" r="9.5"/><circle cx="2290.5" cy="2497.4" r="9.5"/><circle cx="2290.5" cy="2601.5" r="9.5"/><circle cx="2290.5" cy="2633.1" r="9.5"/><circle cx="2290.5" cy="2841.9" r="9.5"/><circle cx="2290.5" cy="2874.3" r="9.5"/><circle cx="2290.5" cy="2906" r="9.5"/><circle cx="2290.5" cy="2936.2" r="9.5"/><circle cx="2290.5" cy="2997.2" r="9.5"/><circle cx="2290.5" cy="3125.4" r="9.5"/><circle cx="2290.5" cy="3157" r="9.5"/></g>
<g class="dB"><circle cx="2290.5" cy="205.4" r="9.5"/><circle cx="2290.5" cy="330.8" r="9.5"/><circle cx="2290.5" cy="362.3" r="9.5"/><circle cx="2290.5" cy="613.1" r="9.5"/><circle cx="2290.5" cy="798" r="9.5"/><circle cx="2290.5" cy="832.4" r="9.5"/><circle cx="2290.5" cy="864" r="9.5"/><circle cx="2290.5" cy="1053.2" r="9.5"/><circle cx="2290.5" cy="1114.8" r="9.5"/><circle cx="2290.5" cy="1241.5" r="9.5"/><circle cx="2290.5" cy="1430" r="9.5"/><circle cx="2290.5" cy="1460" r="9.5"/><circle cx="2290.5" cy="1493" r="9.5"/><circle cx="2290.5" cy="1555.4" r="9.5"/><circle cx="2290.5" cy="1680.8" r="9.5"/><circle cx="2290.5" cy="1713" r="9.5"/><circle cx="2290.5" cy="1743.9" r="9.5"/><circle cx="2290.5" cy="1901.5" r="9.5"/><circle cx="2290.5" cy="1933" r="9.5"/><circle cx="2290.5" cy="1964.6" r="9.5"/><circle cx="2290.5" cy="2120.1" r="9.5"/><circle cx="2290.5" cy="2182.4" r="9.5"/><circle cx="2290.5" cy="2276.6" r="9.5"/><circle cx="2290.5" cy="2340.7" r="9.5"/><circle cx="2290.5" cy="2404" r="9.5"/><circle cx="2290.5" cy="2529" r="9.5"/><circle cx="2290.5" cy="2560" r="9.5"/><circle cx="2290.5" cy="2664.8" r="9.5"/><circle cx="2290.5" cy="2780.1" r="9.5"/><circle cx="2290.5" cy="2968.6" r="9.5"/><circle cx="2290.5" cy="3061.3" r="9.5"/></g>
<g class="dT"><circle cx="2290.5" cy="236.2" r="9.5"/><circle cx="2290.5" cy="645.4" r="9.5"/><circle cx="2290.5" cy="704.8" r="9.5"/><circle cx="2290.5" cy="2151.6" r="9.5"/></g>
<g class="dG"><circle cx="2290.5" cy="958.6" r="9.5"/><circle cx="2290.5" cy="1272.3" r="9.5"/><circle cx="2290.5" cy="1367.6" r="9.5"/><circle cx="2290.5" cy="1617.7" r="9.5"/><circle cx="2290.5" cy="1650" r="9.5"/><circle cx="2290.5" cy="1995.4" r="9.5"/><circle cx="2290.5" cy="2811.8" r="9.5"/><circle cx="2290.5" cy="3093.7" r="9.5"/></g>
</g>

<g id="tribes">
<rect x="2335" y="132" width="45" height="1278" fill="#9dc3e6"/>
<rect x="2335" y="1420" width="45" height="1751" fill="#f3c41c"/>
<text class="tb" transform="translate(2339.5,667.5) rotate(90)">Alticini</text>
<text class="tb" transform="translate(2339.5,2225) rotate(90)">Galerucini</text>
</g>

<g id="axis">
<text class="hd" transform="translate(1937,3208) scale(0.85,1)">75%</text>
<text class="hd" transform="translate(2002,3208) scale(0.85,1)">90%</text>
<text class="hd" transform="translate(2061,3208) scale(0.85,1)">0</text>
<text class="hd" transform="translate(2131,3208) scale(0.85,1)">3000</text>
<text class="hd" transform="translate(2185,3208) scale(0.85,1)">0</text>
<text class="hd" transform="translate(2246.5,3208) scale(0.85,1)">1500</text>
</g>

<g id="legend">
<circle class="dP" cx="2227" cy="3268.6" r="9.5"/>
<text class="lg" transform="translate(2246.6,3281) scale(0.88,1)">Poly-T regions</text>
<circle class="dT" cx="2227" cy="3316.8" r="9.5"/>
<text class="lg" transform="translate(2246.6,3329) scale(0.88,1)">Poly-A regions</text>
<circle class="dB" cx="2227" cy="3365.8" r="9.5"/>
<text class="lg" transform="translate(2246.6,3378) scale(0.88,1)">Both poly-T and poly-A regions</text>
<circle class="dG" cx="2227" cy="3413.3" r="9.5"/>
<text class="lg" transform="translate(2246.6,3426) scale(0.88,1)">No poly-T or poly-A regions found</text>
</g>
</svg>
